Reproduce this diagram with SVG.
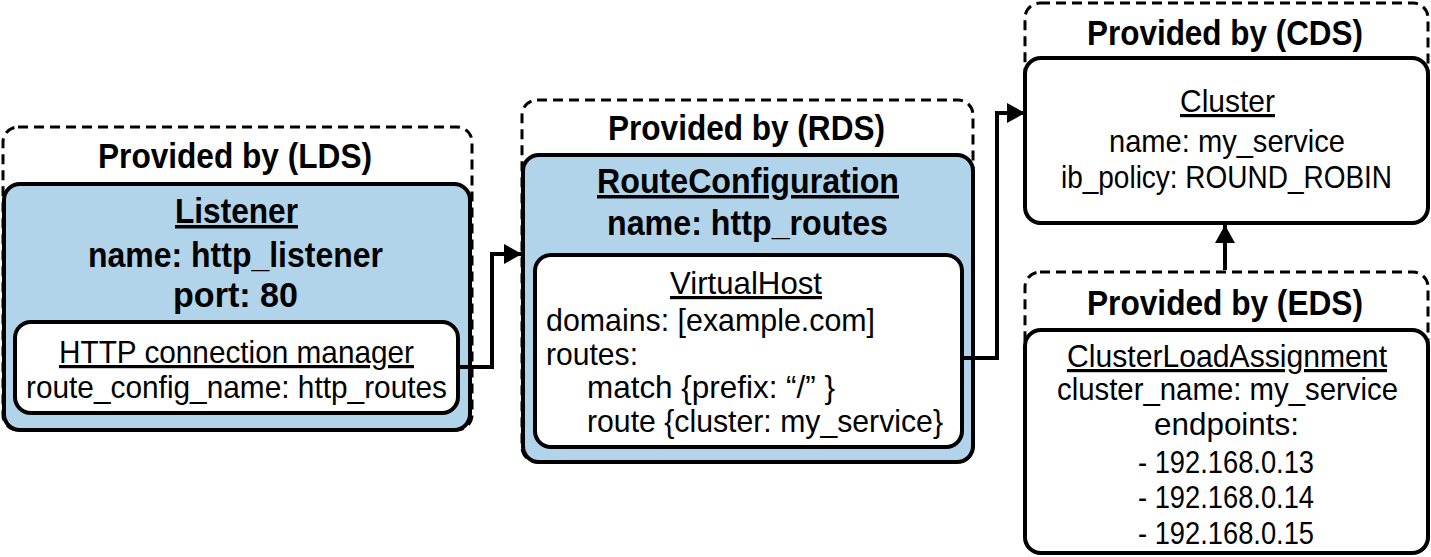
<svg xmlns="http://www.w3.org/2000/svg" width="1431" height="557" viewBox="0 0 1431 557">
<style>
.dash{fill:none;stroke:#000;stroke-width:3;stroke-dasharray:10 6}
.blue{fill:#b2d4ea;stroke:#000;stroke-width:4}
.white{fill:#fff;stroke:#000;stroke-width:4}
text{font-family:"Liberation Sans",Arial,sans-serif;fill:#000}
.b{font-size:35px;font-weight:bold;text-anchor:middle}
.r{font-size:32px;text-anchor:middle}
.l{font-size:32px;text-anchor:start}
.u{text-decoration:underline}
.conn{fill:none;stroke:#000;stroke-width:4}
</style>
<defs>
<marker id="arrow" markerUnits="userSpaceOnUse" markerWidth="18" markerHeight="20" refX="18" refY="10" orient="auto">
<path d="M0,0 L18,10 L0,20 z" fill="#000"/>
</marker>
</defs>
<g id="lds">
<rect class="dash" x="3" y="127" width="469" height="303" rx="15"/>
<text class="b" x="235" y="168" textLength="274" lengthAdjust="spacingAndGlyphs">Provided by (LDS)</text>
<g id="listener">
<rect class="blue" x="4" y="184" width="466" height="246" rx="16"/>
<text class="b u" x="236.5" y="223" textLength="123" lengthAdjust="spacingAndGlyphs">Listener</text>
<text class="b" x="235.5" y="267" textLength="295" lengthAdjust="spacingAndGlyphs">name: http_listener</text>
<text class="b" x="235.5" y="307" textLength="125" lengthAdjust="spacingAndGlyphs">port: 80</text>
</g>
<g id="hcm">
<rect class="white" x="15" y="322" width="443" height="91" rx="16"/>
<text class="r u" x="236.5" y="363" textLength="355" lengthAdjust="spacingAndGlyphs">HTTP connection manager</text>
<text class="r" x="236.5" y="398" textLength="421" lengthAdjust="spacingAndGlyphs">route_config_name: http_routes</text>
</g>
</g>
<g id="rds">
<rect class="dash" x="522" y="100" width="451" height="362" rx="15"/>
<text class="b" x="746.5" y="140" textLength="277" lengthAdjust="spacingAndGlyphs">Provided by (RDS)</text>
<g id="routeconfig">
<rect class="blue" x="523" y="155" width="450" height="307" rx="16"/>
<text class="b u" x="748" y="193" textLength="302" lengthAdjust="spacingAndGlyphs">RouteConfiguration</text>
<text class="b" x="747.5" y="235" textLength="281" lengthAdjust="spacingAndGlyphs">name: http_routes</text>
</g>
<g id="virtualhost">
<rect class="white" x="535" y="255" width="427" height="192" rx="16"/>
<text class="r u" x="746" y="294" textLength="152" lengthAdjust="spacingAndGlyphs">VirtualHost</text>
<text class="l" x="546" y="331" textLength="329" lengthAdjust="spacingAndGlyphs">domains: [example.com]</text>
<text class="l" x="546" y="365" textLength="92" lengthAdjust="spacingAndGlyphs">routes:</text>
<text class="l" x="587" y="398" textLength="248" lengthAdjust="spacingAndGlyphs">match {prefix: “/” }</text>
<text class="l" x="587" y="432" textLength="356" lengthAdjust="spacingAndGlyphs">route {cluster: my_service}</text>
</g>
</g>
<g id="cds">
<rect class="dash" x="1025" y="3" width="403" height="220" rx="15"/>
<text class="b" x="1225" y="45" textLength="276" lengthAdjust="spacingAndGlyphs">Provided by (CDS)</text>
<g id="cluster">
<rect class="white" x="1025" y="58" width="403" height="165" rx="16"/>
<text class="r u" x="1227.5" y="112" textLength="95" lengthAdjust="spacingAndGlyphs">Cluster</text>
<text class="r" x="1227" y="152" textLength="236" lengthAdjust="spacingAndGlyphs">name: my_service</text>
<text class="r" x="1226.5" y="188" textLength="331" lengthAdjust="spacingAndGlyphs">ib_policy: ROUND_ROBIN</text>
</g>
</g>
<g id="eds">
<rect class="dash" x="1025" y="272" width="403" height="281" rx="15"/>
<text class="b" x="1225" y="315" textLength="276" lengthAdjust="spacingAndGlyphs">Provided by (EDS)</text>
<g id="cla">
<rect class="white" x="1025" y="330" width="403" height="223" rx="16"/>
<text class="r u" x="1227" y="367" textLength="320" lengthAdjust="spacingAndGlyphs">ClusterLoadAssignment</text>
<text class="r" x="1227.5" y="400" textLength="341" lengthAdjust="spacingAndGlyphs">cluster_name: my_service</text>
<text class="r" x="1226.5" y="435" textLength="145" lengthAdjust="spacingAndGlyphs">endpoints:</text>
<text class="r" x="1226" y="473" textLength="176" lengthAdjust="spacingAndGlyphs">- 192.168.0.13</text>
<text class="r" x="1226" y="508" textLength="176" lengthAdjust="spacingAndGlyphs">- 192.168.0.14</text>
<text class="r" x="1226" y="544" textLength="176" lengthAdjust="spacingAndGlyphs">- 192.168.0.15</text>
</g>
</g>
<g id="connectors">
<path class="conn" d="M458 367 H492 V254 H522" marker-end="url(#arrow)"/>
<path class="conn" d="M962 358 H997 V113 H1025" marker-end="url(#arrow)"/>
<path class="conn" d="M1225 270 V225" marker-end="url(#arrow)"/>
</g>
</svg>
